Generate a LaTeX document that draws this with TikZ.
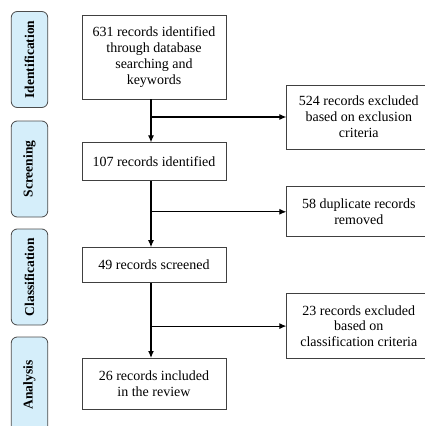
\documentclass[tikz,border=0pt]{standalone}
\usepackage{fontspec}
\setmainfont{Liberation Serif}
\usetikzlibrary{positioning}
\usetikzlibrary{arrows.meta}
\tikzset{>={Latex[width=6pt,length=7pt]}}
\definecolor{stageblue}{HTML}{D5EEFA}

\begin{document}
\begin{tikzpicture}[x=1pt, y=1pt, box/.style={rectangle, draw=black!75, line width=0.8pt, minimum width=144pt, align=center, inner sep=2pt, font=\fontsize{14}{15.8}\selectfont}, stage/.style={rectangle, rounded corners=6pt, draw=black!70, fill=stageblue, line width=0.8pt, minimum width=96pt, minimum height=36.5pt, rotate=90, font=\bfseries\fontsize{13.5}{15}\selectfont}, flow/.style={->, line width=1.1pt}]

    \useasboundingbox (0,0) rectangle (425,-426);

    %Stages
    \node[stage](ident) at (29.5,-59.5){Identification};
    \node[stage](screen) at (29.5,-169){Screening};
    \node[stage](classif) at (29.5,-277){Classification};
    \node[stage](analysis) at (29.5,-385){Analysis};

    %Nodes
    \node[box, minimum height=84pt](found) at (154,-57){631 records identified\\through database\\searching and\\keywords};
    \node[box, minimum height=38pt](first)[below=43pt of found]{107 records identified};
    \node[box, minimum height=35pt](screened)[below=66pt of first]{49 records screened};
    \node[box, minimum height=51pt](included)[below=75pt of screened]{26 records included\\in the review};
    \node[box, minimum height=64pt](excluded)[right=60pt of found, yshift=-60pt]{524 records excluded\\based on exclusion\\criteria};
    \node[box, minimum height=50pt](duplicates)[right=60pt of first, yshift=-50pt]{58 duplicate records\\removed};
    \node[box, minimum height=65pt](rejected)[right=60pt of screened, yshift=-61pt]{23 records excluded\\based on\\classification criteria};

    %Lines
    \coordinate (trunk1) at ([xshift=-3pt]found.south);
    \coordinate (trunk2) at ([xshift=-3pt]first.south);
    \coordinate (trunk3) at ([xshift=-3pt]screened.south);
    \draw[flow] (trunk1) -- (trunk1 |- first.north);
    \draw[flow] (trunk1 |- excluded.west) -- (excluded.west);
    \draw[flow] (trunk2) -- (trunk2 |- screened.north);
    \draw[flow] (trunk2 |- duplicates.west) -- (duplicates.west);
    \draw[flow] (trunk3) -- (trunk3 |- included.north);
    \draw[flow] (trunk3 |- rejected.west) -- (rejected.west);

\end{tikzpicture}
\end{document}
